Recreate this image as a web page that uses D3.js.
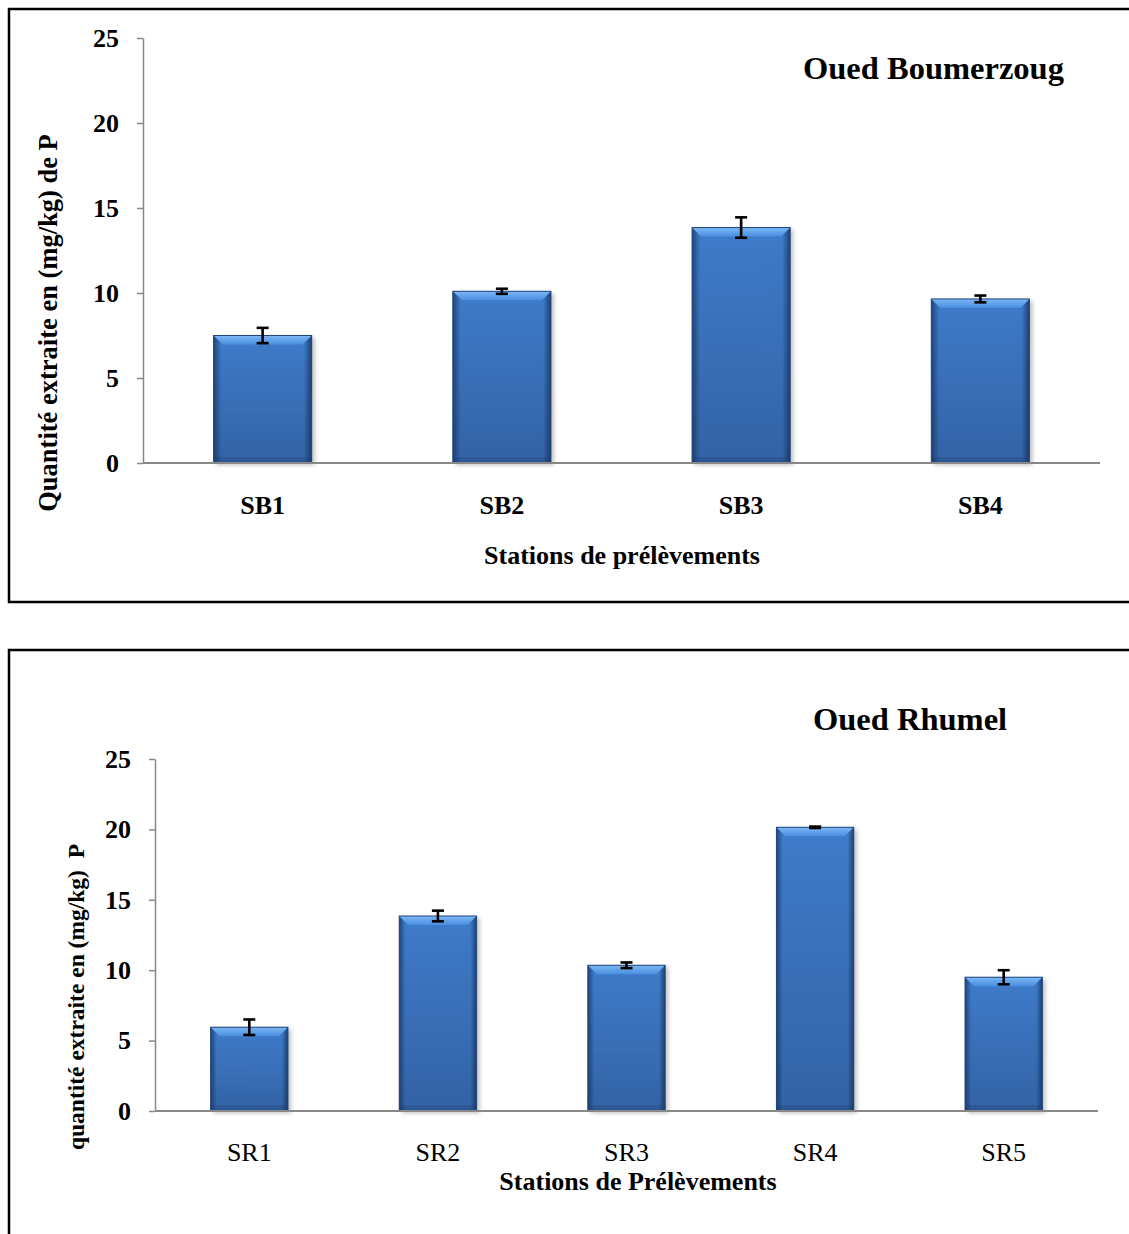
<!DOCTYPE html>
<html><head><meta charset="utf-8">
<script src="https://cdn.jsdelivr.net/npm/d3@7"></script>
<style>body{margin:0;background:#fff}svg{display:block}</style>
</head><body>
<svg id="c" width="1129" height="1234"></svg>
<script>
const catsB = ["SB1","SB2","SB3","SB4"];
const valsB = [7.5, 10.1, 13.85, 9.65];
const errB  = [0.45, 0.15, 0.6, 0.2];
const catsR = ["SR1","SR2","SR3","SR4","SR5"];
const valsR = [5.95, 13.85, 10.35, 20.15, 9.5];
const errR  = [0.55, 0.38, 0.2, 0.05, 0.5];
const yTicks = [0,5,10,15,20,25];

const svg = d3.select("#c");
const font = "'Liberation Serif','Times New Roman',serif";
const defs = svg.append("defs");
const gv = defs.append("linearGradient").attr("id","gv").attr("x1",0).attr("y1",0).attr("x2",0).attr("y2",1);
gv.append("stop").attr("offset","0").attr("stop-color","#4384d6");
gv.append("stop").attr("offset","1").attr("stop-color","#3668ae");
const gh = defs.append("linearGradient").attr("id","gh").attr("x1",0).attr("y1",0).attr("x2",1).attr("y2",0);
gh.append("stop").attr("offset","0").attr("stop-color","#14305a").attr("stop-opacity",0.75);
gh.append("stop").attr("offset","0.08").attr("stop-color","#14305a").attr("stop-opacity",0.1);
gh.append("stop").attr("offset","0.92").attr("stop-color","#14305a").attr("stop-opacity",0.1);
gh.append("stop").attr("offset","1").attr("stop-color","#14305a").attr("stop-opacity",0.8);
const gt = defs.append("linearGradient").attr("id","gt").attr("x1",0).attr("y1",0).attr("x2",0).attr("y2",1);
gt.append("stop").attr("offset","0").attr("stop-color","#7cb8f5");
gt.append("stop").attr("offset","1").attr("stop-color","#4a8ee0");
const fl = defs.append("filter").attr("id","sh").attr("x","-20%").attr("y","-20%").attr("width","140%").attr("height","140%");
fl.append("feDropShadow").attr("dx",3).attr("dy",2).attr("stdDeviation",2).attr("flood-color","#000").attr("flood-opacity",0.25);

function chart(o){
  const g = svg.append("g");
  g.append("rect").attr("x",o.box[0]).attr("y",o.box[1]).attr("width",o.box[2]).attr("height",o.box[3])
    .attr("fill","none").attr("stroke","#000").attr("stroke-width",2.5);
  const x = d3.scaleBand().domain(o.cats).range([o.x0,o.x1]).paddingInner(0.59).paddingOuter(0.295);
  const y = d3.scaleLinear().domain([0,25]).range([o.y0,o.y1]);
  o.cats.forEach((c,i)=>{
    const bx = x(c), bw = x.bandwidth(), by = y(o.vals[i]), bh = y(0)-by;
    const bg = g.append("g");
    bg.append("rect").attr("x",bx).attr("y",by).attr("width",bw).attr("height",bh).attr("fill","url(#gv)").attr("filter","url(#sh)");
    bg.append("rect").attr("x",bx).attr("y",by).attr("width",bw).attr("height",bh).attr("fill","url(#gh)");
    const t = 9;
    bg.append("path").attr("d",`M${bx},${by}H${bx+bw}L${bx+bw-t},${by+t}H${bx+t}Z`).attr("fill","url(#gt)");
    bg.append("rect").attr("x",bx).attr("y",by+bh-6).attr("width",bw).attr("height",6).attr("fill","#1c3a66").attr("opacity",0.25);
    bg.append("rect").attr("x",bx).attr("y",by).attr("width",bw).attr("height",bh).attr("fill","none").attr("stroke","#23467a").attr("stroke-width",1);
    const cx = bx + bw/2, e = o.err[i];
    const eg = g.append("g").attr("stroke","#000").attr("stroke-width",2.6);
    eg.append("line").attr("x1",cx).attr("x2",cx).attr("y1",y(o.vals[i]+e)).attr("y2",y(o.vals[i]-e));
    [o.vals[i]+e, o.vals[i]-e].forEach(v=>eg.append("line").attr("x1",cx-6).attr("x2",cx+6).attr("y1",y(v)).attr("y2",y(v)));
  });
  const ya = g.append("g").attr("transform",`translate(${o.x0},0)`)
    .call(d3.axisLeft(y).tickValues(yTicks).tickSize(6).tickSizeOuter(0).tickPadding(o.ypad));
  ya.select(".domain").attr("stroke","#888").attr("stroke-width",1.5);
  ya.selectAll(".tick line").attr("stroke","#888").attr("stroke-width",1.5);
  ya.selectAll("text").attr("font-family",font).attr("font-size",26).attr("font-weight","bold").attr("fill","#000");
  const xa = g.append("g").attr("transform",`translate(0,${o.y0})`)
    .call(d3.axisBottom(x).tickSize(0).tickPadding(o.xpad));
  xa.select(".domain").attr("stroke","#888").attr("stroke-width",2).attr("d",`M${o.x0},0H${o.x1}`);
  xa.selectAll("text").attr("font-family",font).attr("font-size",26).attr("font-weight",o.xbold?"bold":"normal").attr("fill","#000");
  g.append("text").attr("x",o.title[1]).attr("y",o.title[2]).attr("font-family",font).attr("font-size",o.title[3])
    .attr("font-weight","bold").text(o.title[0]);
  g.append("text").attr("x",o.xt[1]).attr("y",o.xt[2]).attr("text-anchor","middle").attr("font-family",font)
    .attr("font-size",26).attr("font-weight","bold").text(o.xt[0]);
  g.append("text").attr("transform",`translate(${o.yt[1]},${o.yt[2]}) rotate(-90)`).attr("text-anchor","middle")
    .attr("font-family",font).attr("font-size",o.yt[3]).attr("font-weight","bold").attr("xml:space","preserve").text(o.yt[0]);
}

chart({box:[9,9,1130,593], cats:catsB, vals:valsB, err:errB, x0:143, x1:1100, y0:463, y1:38,
  ypad:18, xpad:33, xbold:true,
  title:["Oued Boumerzoug",803,79,32.5], xt:["Stations de prélèvements",622,564],
  yt:["Quantité extraite en (mg/kg) de P",57,323,26.5]});
chart({box:[9,650,1130,600], cats:catsR, vals:valsR, err:errR, x0:155, x1:1098, y0:1111, y1:759,
  ypad:18, xpad:32, xbold:false,
  title:["Oued Rhumel",813,730,32.5], xt:["Stations de Prélèvements",638,1190],
  yt:["quantité extraite en (mg/kg)  P",84,997,23.5]});
</script>
</body></html>
